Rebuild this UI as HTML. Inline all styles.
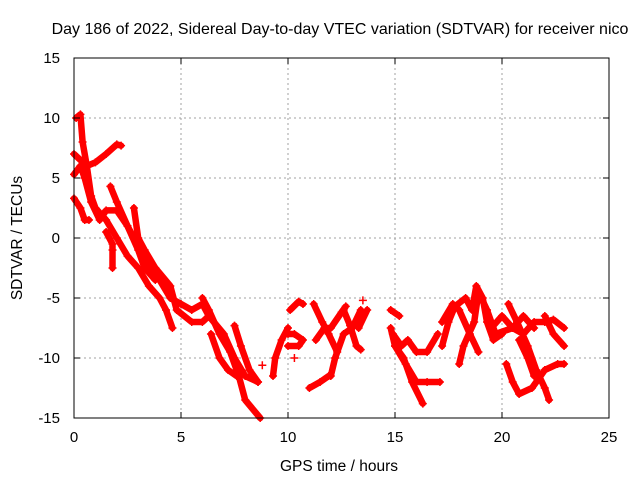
<!DOCTYPE html>
<html><head><meta charset="utf-8"><style>
html,body{margin:0;padding:0;background:#fff;}
svg{display:block;font-family:"Liberation Sans",sans-serif;}
</style></head><body>
<svg id="chart" width="640" height="480" viewBox="0 0 640 480" xmlns="http://www.w3.org/2000/svg">
<rect width="640" height="480" fill="#fff"/>
<text x="340" y="34" font-size="16" text-anchor="middle" fill="#000">Day 186 of 2022, Sidereal Day-to-day VTEC variation (SDTVAR) for receiver nico</text>
<g id="grid"></g>
<g id="series"></g>
<rect x="74" y="58" width="535" height="360" fill="none" stroke="#000" stroke-width="1"/>
<g id="ticks"></g>
<text x="339" y="471" font-size="15.5" text-anchor="middle">GPS time / hours</text>
<text x="22" y="238" font-size="15.5" text-anchor="middle" transform="rotate(-90 22 238)">SDTVAR / TECUs</text>
</svg>
<script>
const xTicks = [0,5,10,15,20,25];
const yTicks = [15,10,5,0,-5,-10,-15];
const track1 = [[0.1,10],[0.3,10.3],[0.4,8],[0.6,6],[0.8,3.5],[1.0,2.5],[1.5,1.5],[2,0],[2.5,-1.5],[3,-2.5],[3.5,-4],[4,-5],[4.3,-6],[4.6,-7.5]];
const track2 = [[0,7],[0.3,6.5],[0.6,6],[1,6.3],[1.5,7],[2,7.8],[2.2,7.7]];
const track3 = [[0,5.3],[0.3,6],[0.5,5],[0.8,3],[1.2,1.5],[1.5,2.3],[2,2.3],[2.5,1],[3,-1],[3.3,-2.5],[3.8,-3.5]];
const track4 = [[0,3.3],[0.3,2.5],[0.5,1.5],[0.7,1.5]];
const track5 = [[1.7,4.3],[2,3],[2.5,1],[2.8,0],[3.2,-1.5],[4,-3.5],[4.5,-5],[5,-5.5],[5.5,-6],[6,-5.5],[6.3,-6.5],[7,-8],[7.5,-10],[8,-11.5],[8.6,-12]];
const track6 = [[1.5,0.5],[1.8,-0.5],[1.8,-1],[1.8,-2.5]];
const track7 = [[2.8,2.5],[3,0],[3.3,-1],[3.8,-2.5],[4.5,-4],[4.8,-6],[5.5,-7],[6,-7],[6.3,-6.5]];
const track8 = [[6,-5],[6.3,-6],[6.8,-8],[7.3,-9.5],[7.7,-11.5],[8,-13.5],[8.7,-15]];
const track9 = [[6.4,-8],[6.8,-10],[7.2,-11],[7.6,-11.5]];
const track10 = [[7.5,-7.3],[7.8,-9],[8.2,-11],[8.6,-12]];
const track11 = [[8.8,-10.6]];
const track12 = [[9.3,-11.5],[9.4,-10],[9.7,-8.5],[10,-7.5]];
const track13 = [[10.1,-6],[10.5,-5.3],[10.7,-5.5]];
const track14 = [[10,-8],[10.3,-8],[10.7,-8.5],[10.5,-9],[10,-9]];
const track15 = [[10.3,-10]];
const track16 = [[11,-12.5],[11.5,-12],[11.9,-11.5]];
const track17 = [[11.2,-5.5],[11.6,-7],[11.9,-8],[12.3,-9.5]];
const track18 = [[11.3,-8.5],[11.7,-7.5],[12,-7.5],[12.5,-6.2],[12.7,-5.7]];
const track19 = [[12,-11.5],[12.2,-10],[12.6,-8],[13,-7.5],[13.4,-6]];
const track20 = [[12.6,-6],[12.9,-7.3],[13.2,-9],[13.4,-9.3]];
const track21 = [[13.3,-7.5],[13.7,-6]];
const track22 = [[13.5,-5.2]];
const track23 = [[14.8,-6],[15.2,-6.5]];
const track24 = [[14.8,-7.5],[15,-9],[15.4,-10],[15.8,-12],[16.3,-13.8]];
const track25 = [[14.9,-8],[15.3,-9],[15.6,-8.5],[16,-9.5],[16.5,-9.5],[17,-8]];
const track26 = [[15,-9],[15.5,-10.5],[16,-12],[16.5,-12],[17.1,-12]];
const track27 = [[17.2,-9],[17.5,-7],[17.8,-5.7],[18.3,-5],[18.6,-6],[18.8,-4],[19.1,-5],[19.3,-7],[19.6,-8.5],[20,-8]];
const track28 = [[17.2,-7],[17.7,-5.5],[18,-6],[18.5,-8],[18.9,-9.5]];
const track29 = [[18,-10.5],[18.2,-9],[18.7,-7],[18.9,-4.5],[19.3,-6],[19.7,-8],[20.5,-7.5],[21,-8],[21.5,-7],[22,-7],[22.4,-6.8],[22.9,-7.5]];
const track30 = [[20.3,-5.5],[20.7,-7],[21.2,-9],[21.6,-11],[22,-12.5],[22.2,-13.5]];
const track31 = [[20.8,-8.5],[21.2,-10],[21.5,-11.5]];
const track32 = [[20.2,-10.5],[20.5,-12],[20.8,-13],[21.4,-12.5],[22,-11],[22.6,-10.5],[22.9,-10.5]];
const track33 = [[22,-6.5],[22.4,-8],[22.9,-9]];
const track34 = [[19.5,-7.5],[20,-6.5],[20.5,-7.5],[21,-6.5],[21.5,-7.5]];
const tracks = [track1,track2,track3,track4,track5,track6,track7,track8,track9,track10,track11,track12,track13,track14,track15,track16,track17,track18,track19,track20,track21,track22,track23,track24,track25,track26,track27,track28,track29,track30,track31,track32,track33,track34];

const NS = "http://www.w3.org/2000/svg";
const X0=74, X1=609, Y0=418, Y1=58;
function xs(t){return X0+(t-0)/(25-0)*(X1-X0);}
function ys(v){return Y0-(v-(-15))/(15-(-15))*(Y0-Y1);}
const grid=document.getElementById('grid'), ticks=document.getElementById('ticks'), ser=document.getElementById('series');
function mk(tag,attrs,parent){const e=document.createElementNS(NS,tag);for(const k in attrs)e.setAttribute(k,attrs[k]);parent.appendChild(e);return e;}
xTicks.forEach(t=>{
  const x=xs(t);
  if(t>0&&t<25){const g=mk('line',{x1:x,x2:x,y1:Y1,y2:Y0,stroke:'#a0a0a0','stroke-dasharray':'2,3','stroke-width':1},grid);
    
    }
  const tk=mk('path',{d:`M${x},${Y0}v-6M${x},${Y1}v6`,stroke:'#000'},ticks);
  
  
  const l=mk('text',{x:x,y:Y0+24,'font-size':15,'text-anchor':'middle'},ticks);
  l.textContent=t;
  
  
});
yTicks.forEach(v=>{
  const y=ys(v);
  if(v>-15&&v<15){const g=mk('line',{x1:X0,x2:X1,y1:y,y2:y,stroke:'#a0a0a0','stroke-dasharray':'2,3','stroke-width':1},grid);
    
    }
  const tk=mk('path',{d:`M${X0},${y}h6M${X1},${y}h-6`,stroke:'#000'},ticks);
  
  
  const l=mk('text',{x:X0-14,y:y+5,'font-size':15,'text-anchor':'end'},ticks);
  l.textContent=v;
  
  
});
tracks.forEach(tr=>{
  if(tr.length>1){
    const d=tr.map((p,i)=>(i?'L':'M')+xs(p[0]).toFixed(1)+','+ys(p[1]).toFixed(1)).join('');
    const pl=mk('path',{d:d,fill:'none',stroke:'#ff0000','stroke-width':6.5,'stroke-linejoin':'round','stroke-linecap':'round'},ser);
    
    
  }
  tr.forEach(p=>{
    const x=xs(p[0]),y=ys(p[1]);
    const m=mk('path',{d:`M${x-4},${y}h8M${x},${y-4}v8`,stroke:'#ff0000','stroke-width':1.5},ser);
    
    
  });
});
</script>
</body></html>
